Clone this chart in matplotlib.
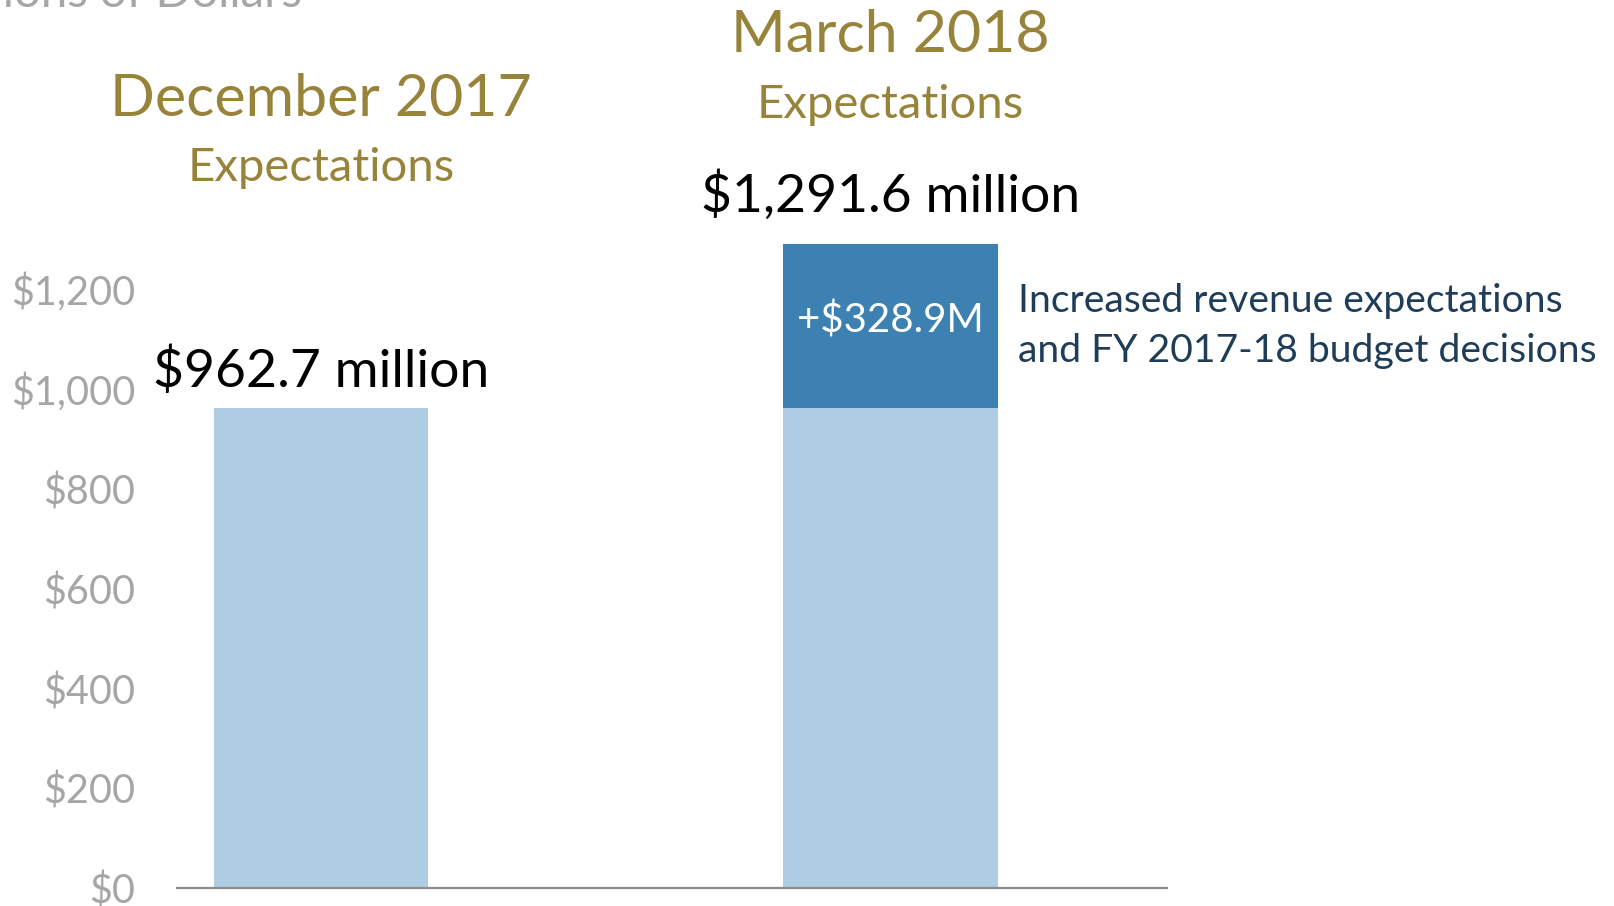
import matplotlib
matplotlib.use("Agg")
import matplotlib.pyplot as plt

# ---- data ----
categories = ["December 2017", "March 2018"]
base_values = [962.7, 962.7]
increase_values = [0.0, 328.9]
total_labels = ["$962.7 million", "$1,291.6 million"]
increase_label = "+$328.9M"
annotation_lines = ["Increased revenue expectations",
                    "and FY 2017-18 budget decisions"]
yticks = [0, 200, 400, 600, 800, 1000, 1200]
ytick_labels = ["$0", "$200", "$400", "$600", "$800", "$1,000", "$1,200"]
axis_title = "Millions of Dollars"

# ---- style ----
FONT = ["Lato", "DejaVu Sans"]
GOLD = "#98833a"
NAVY = "#1f3d58"
LIGHT = "#aecde2"
DARK = "#3c81b2"
GRAY = "#a6a6a6"

plt.rcParams["font.family"] = FONT

fig = plt.figure(figsize=(16.14, 9.06), dpi=100)
ax = fig.add_axes([177 / 1614, 18 / 906, (1167 - 177) / 1614, 888 / 906])

x = list(range(len(categories)))
width = 0.376
ax.bar(x, base_values, width=width, color=LIGHT, zorder=1)
ax.bar(x, increase_values, width=width, bottom=base_values, color=DARK, zorder=1)

ax.set_xlim(-0.2529, 1.4855)
ax.set_ylim(0, 1781)

for s in ["top", "right", "left"]:
    ax.spines[s].set_visible(False)
ax.spines["bottom"].set_color("#8c8c8c")
ax.spines["bottom"].set_linewidth(1.6)
ax.spines["bottom"].set_zorder(3)

ax.set_xticks([])
ax.set_yticks(yticks)
ax.set_yticklabels(ytick_labels)
ax.tick_params(axis="y", length=0, pad=30, labelsize=28.5, labelcolor=GRAY)

# category titles
title_base = [1548, 1677]
sub_base = [1418, 1544]
for i, cat in enumerate(categories):
    ax.text(x[i], title_base[i], cat, ha="center", va="baseline",
            fontsize=42.5, color=GOLD)
    ax.text(x[i], sub_base[i], "Expectations", ha="center", va="baseline",
            fontsize=34, color=GOLD)

# totals
totals = [b + inc for b, inc in zip(base_values, increase_values)]
offsets = [42, 64]
for i, lab in enumerate(total_labels):
    ax.text(x[i], totals[i] + offsets[i], lab, ha="center", va="baseline",
            fontsize=38.5, color="black")

# increase label inside dark segment
ax.text(x[1], base_values[1] + increase_values[1] / 2 - 14, increase_label,
        ha="center", va="baseline", fontsize=29, color="white")

# annotation
ann_y = [1155, 1055]
for line, yy in zip(annotation_lines, ann_y):
    ax.text(1.2239, yy, line, ha="left", va="baseline", fontsize=28.2, color=NAVY)

fig.text(302 / 1614, 1 - 7 / 906, axis_title, ha="right", va="baseline",
         fontsize=34, color=GRAY)

fig.savefig("out.png", dpi=100, facecolor="white")
